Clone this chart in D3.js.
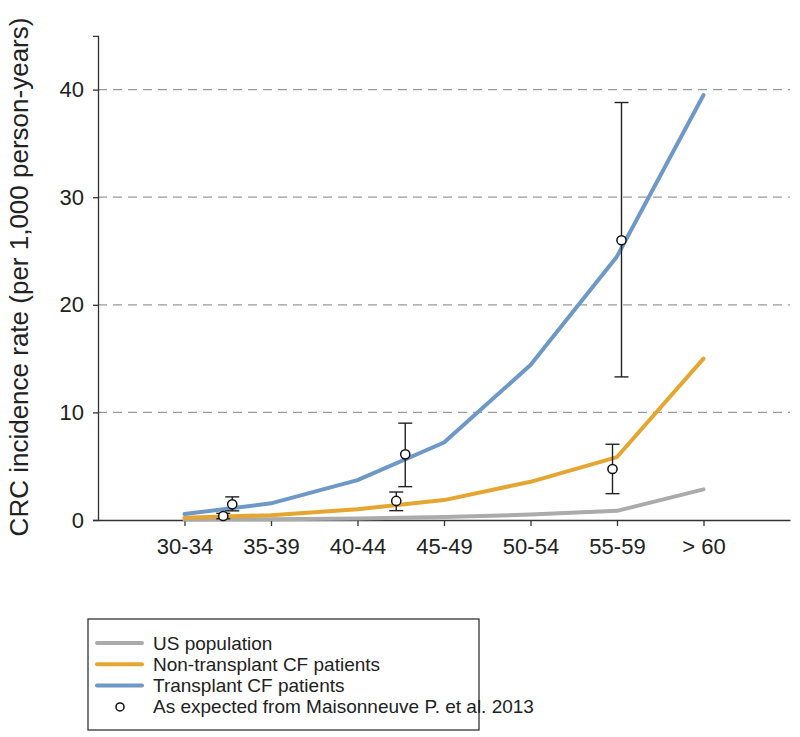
<!DOCTYPE html>
<html>
<head>
<meta charset="utf-8">
<script src="https://cdn.jsdelivr.net/npm/d3@7/dist/d3.min.js"></script>
<style>
  html, body { margin: 0; padding: 0; background: #fff; }
  svg { display: block; }
  text { font-family: "Liberation Sans", Arial, sans-serif; fill: #222; }
</style>
</head>
<body>
<svg id="chart" width="800" height="737"></svg>
<script>
// ---- data ----
const categories = ["30-34", "35-39", "40-44", "45-49", "50-54", "55-59", "> 60"];
const usPopulation = [0.05, 0.08, 0.15, 0.27, 0.5, 0.85, 2.85];
const nonTransplant = [0.2, 0.45, 1.0, 1.85, 3.55, 5.85, 15.0];
const transplant = [0.55, 1.55, 3.7, 7.2, 14.4, 24.5, 39.5];

// Maisonneuve et al. 2013 expected values (position on category axis)
const expectedPos = [0.5, 2.5, 5];
const expectedNonTx = [0.37, 1.77, 4.74];
const expectedNonTxLow = [0.12, 0.87, 2.45];
const expectedNonTxHigh = [0.62, 2.6, 7.04];
const expectedTx = [1.46, 6.1, 26.0];
const expectedTxLow = [0.85, 3.1, 13.3];
const expectedTxHigh = [2.15, 9.0, 38.8];

const yTicks = [0, 10, 20, 30, 40];
const gridTicks = [10, 20, 30, 40];

const legendItems = [
  { label: "US population", type: "line", color: "#ababab" },
  { label: "Non-transplant CF patients", type: "line", color: "#e5a631" },
  { label: "Transplant CF patients", type: "line", color: "#6e98c6" },
  { label: "As expected from Maisonneuve P. et al. 2013", type: "circle" }
];

// ---- layout ----
const svg = d3.select("#chart");
const x = d3.scaleLinear().domain([-1, 7]).range([98, 790]);
const y = d3.scaleLinear().domain([0, 45]).range([520, 35.8]);
const colors = { us: "#ababab", non: "#e5a631", tx: "#6e98c6" };

// gridlines
svg.append("g").selectAll("line").data(gridTicks).join("line")
  .attr("x1", x(-1)).attr("x2", x(7))
  .attr("y1", d => y(d)).attr("y2", d => y(d))
  .attr("stroke", "#9a9a9a").attr("stroke-width", 1.3)
  .attr("stroke-dasharray", "9,6");

// y axis
const yAxis = d3.axisLeft(y).tickValues(yTicks).tickSize(5).tickPadding(9).tickFormat(d3.format("d"));
const gy = svg.append("g").attr("transform", `translate(${x(-1)},0)`).call(yAxis);
gy.select(".domain").attr("stroke", "#333").attr("stroke-width", 1.3);
gy.selectAll(".tick line").attr("stroke", "#333").attr("stroke-width", 1.3);
gy.selectAll(".tick text").style("font-size", "22px").attr("fill", "#222")
  .style("font-family", "'Liberation Sans', Arial, sans-serif");

// x axis
const xAxis = d3.axisBottom(x).tickValues(d3.range(categories.length))
  .tickFormat(i => categories[i]).tickSize(6).tickSizeOuter(0).tickPadding(12);
const gx = svg.append("g").attr("transform", `translate(0,${y(0)})`).call(xAxis);
gx.select(".domain").attr("stroke", "#333").attr("stroke-width", 1.3);
gx.selectAll(".tick line").attr("stroke", "#333").attr("stroke-width", 1.3);
gx.selectAll(".tick text").style("font-size", "22px").attr("fill", "#222")
  .style("font-family", "'Liberation Sans', Arial, sans-serif");

// y title
svg.append("text")
  .attr("transform", "translate(28,277) rotate(-90)")
  .attr("text-anchor", "middle")
  .style("font-size", "26px")
  .text("CRC incidence rate (per 1,000 person-years)");

// lines
const line = d3.line().x((d, i) => x(i)).y(d => y(d));
[[usPopulation, colors.us], [nonTransplant, colors.non], [transplant, colors.tx]].forEach(([data, c]) => {
  svg.append("path").datum(data).attr("d", line)
    .attr("fill", "none").attr("stroke", c).attr("stroke-width", 4)
    .attr("stroke-linejoin", "round").attr("stroke-linecap", "round");
});

// expected points with error bars
const offset = 0.052;
function drawExpected(vals, lows, highs, dx) {
  const g = svg.append("g");
  vals.forEach((v, i) => {
    const cx = x(expectedPos[i] + dx);
    g.append("line").attr("x1", cx).attr("x2", cx).attr("y1", y(lows[i])).attr("y2", y(highs[i]))
      .attr("stroke", "#222").attr("stroke-width", 1.4);
    [lows[i], highs[i]].forEach(e => {
      g.append("line").attr("x1", cx - 7).attr("x2", cx + 7).attr("y1", y(e)).attr("y2", y(e))
        .attr("stroke", "#222").attr("stroke-width", 1.4);
    });
    g.append("circle").attr("cx", cx).attr("cy", y(v)).attr("r", 4.6)
      .attr("fill", "#fff").attr("stroke", "#111").attr("stroke-width", 1.5);
  });
}
drawExpected(expectedNonTx, expectedNonTxLow, expectedNonTxHigh, -offset);
drawExpected(expectedTx, expectedTxLow, expectedTxHigh, offset);

// legend
const lg = svg.append("g");
lg.append("rect").attr("x", 88).attr("y", 619).attr("width", 391).attr("height", 111)
  .attr("fill", "#fff").attr("stroke", "#333").attr("stroke-width", 1.3);
legendItems.forEach((d, i) => {
  const cy = 643 + i * 21.3;
  if (d.type === "line") {
    lg.append("line").attr("x1", 97).attr("x2", 142).attr("y1", cy).attr("y2", cy)
      .attr("stroke", d.color).attr("stroke-width", 4).attr("stroke-linecap", "round");
  } else {
    lg.append("circle").attr("cx", 120).attr("cy", cy).attr("r", 4)
      .attr("fill", "#fff").attr("stroke", "#111").attr("stroke-width", 1.5);
  }
  lg.append("text").attr("x", 153).attr("y", cy + 6.5).style("font-size", "19px").text(d.label);
});
</script>
</body>
</html>
